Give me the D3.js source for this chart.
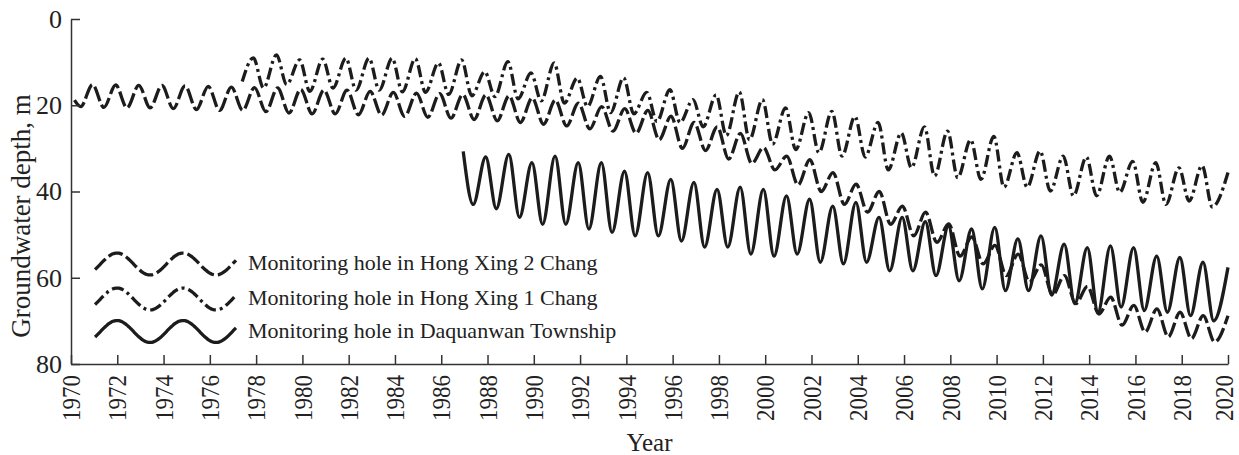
<!DOCTYPE html>
<html>
<head>
<meta charset="utf-8">
<script src="https://cdn.jsdelivr.net/npm/d3@7"></script>
<style>
  body { margin: 0; background: #fff; }
  text { font-family: "Liberation Serif", "Times New Roman", serif; fill: #222; }
</style>
</head>
<body>
<div class="container"></div>
<script>
const width = 1239;
const height = 455;
const margin = { top: 19, right: 11, bottom: 91, left: 71 };
const lineColor = '#1c1c1c';

// x ticks and y ticks
const yearTicks = d3.range(1970, 2021, 2);
const depthTicks = [0, 20, 40, 60, 80];

// Hong Xing 2 Chang (long dashes): yearly deepest (trough) and shallowest (peak) depth, m
const hx2FirstYear = 1970;
const hx2Start = [1970.15, 18.8];
const hx2End = [2020, 68.8];
const hx2Trough = [20.3, 20.5, 20.6, 20.6, 20.8, 21.0, 21.2, 21.2, 21.5, 21.8,
    22.0, 22.0, 22.2, 22.3, 22.6, 22.8, 23.0, 23.3, 23.6, 24.0,
    24.4, 24.8, 25.5, 26.0, 26.5, 28.0, 30.0, 30.5, 32.5, 33.5,
    35.0, 38.5, 40.0, 43.0, 44.8, 47.6, 50.3, 51.8, 55.0, 56.8,
    59.5, 61.0, 64.0, 66.0, 68.4, 71.0, 72.6, 73.7, 74.1, 74.9];
const hx2Peak = [15.2, 15.3, 15.4, 15.4, 15.5, 15.6, 15.8, 15.9, 16.0, 16.3,
    16.5, 16.5, 16.8, 17.0, 17.2, 17.3, 17.5, 17.6, 17.8, 18.3,
    18.8, 19.5, 20.3, 20.8, 21.2, 22.5, 24.0, 25.0, 26.5, 29.8,
    31.8, 32.6, 35.6, 38.3, 40.0, 43.4, 44.8, 47.5, 50.5, 52.5,
    54.5, 57.0, 59.5, 62.0, 64.5, 66.4, 67.2, 68.0, 68.8];

// Hong Xing 1 Chang (dash-dot)
const hx1FirstYear = 1977;
const hx1Start = [1977.4, 14.5];
const hx1End = [2020, 35.6];
const hx1Trough = [null, 16.0, 15.2, 16.8, 16.0, 16.5, 16.5, 16.9, 17.0, 17.5,
    17.8, 18.0, 18.5, 19.0, 19.5, 20.3, 21.7, 22.0, 23.8, 24.0,
    25.0, 27.0, 28.0, 29.0, 30.3, 31.0, 31.8, 32.0, 35.0, 34.5,
    36.4, 36.8, 37.2, 39.0, 39.0, 39.9, 41.0, 41.0, 40.2, 42.5,
    43.0, 42.2, 43.6];
const hx1Peak = [9.0, 8.3, 9.5, 9.3, 9.1, 9.1, 9.1, 9.2, 10.2, 9.5,
    12.2, 9.9, 12.5, 10.2, 13.7, 13.3, 13.6, 17.0, 16.4, 18.7,
    17.6, 16.9, 18.7, 20.6, 21.7, 21.4, 22.6, 24.0, 26.4, 25.0,
    26.0, 28.0, 27.2, 31.0, 30.6, 31.8, 32.0, 31.8, 33.0, 33.3,
    34.5, 34.0];

// Daquanwan Township (solid)
const dqwFirstYear = 1987;
const dqwStart = [1986.95, 30.7];
const dqwEnd = [2020, 57.6];
const dqwTrough = [43.0, 44.0, 46.0, 47.6, 47.6, 48.7, 49.5, 50.3, 50.3, 51.5,
    52.9, 52.9, 54.5, 55.0, 54.5, 56.4, 56.8, 56.4, 58.4, 58.4,
    59.5, 60.7, 62.6, 63.0, 63.0, 64.0, 66.0, 68.0, 66.8, 67.6,
    68.0, 68.8, 70.0];
const dqwPeak = [32.0, 31.4, 33.3, 31.8, 33.3, 33.3, 35.3, 35.6, 37.2, 37.9,
    39.5, 39.0, 39.5, 41.0, 41.8, 43.4, 42.5, 46.0, 46.0, 47.0,
    48.0, 48.7, 48.3, 51.0, 50.3, 52.2, 53.0, 52.6, 53.0, 55.0,
    55.3, 56.4];

const legendLabels = [
    'Monitoring hole in Hong Xing 2 Chang',
    'Monitoring hole in Hong Xing 1 Chang',
    'Monitoring hole in Daquanwan Township',
];

// time within the year of the low and high water stand
function buildSeries(first, start, troughs, peaks, end, troughPhase, peakPhase) {
    const pts = [start];
    troughs.forEach((t, i) => {
        if (t !== null) pts.push([first + i + troughPhase, t]);
        if (peaks[i] !== undefined) pts.push([first + i + peakPhase, peaks[i]]);
    });
    pts.push(end);
    return pts;
}

const series = [
    { pts: buildSeries(hx2FirstYear, hx2Start, hx2Trough, hx2Peak, hx2End, 0.42, 0.93), dash: '15,4' },
    { pts: buildSeries(hx1FirstYear, hx1Start, hx1Trough, hx1Peak, hx1End, 0.32, 0.88), dash: '12,4,3,4' },
    { pts: buildSeries(dqwFirstYear, dqwStart, dqwTrough, dqwPeak, dqwEnd, 0.38, 0.92), dash: null },
];

const svg = d3.select('.container')
    .append('svg')
    .attr('width', width)
    .attr('height', height);

const x = d3.scaleLinear().domain([1970, 2020]).range([margin.left, width - margin.right]);
const y = d3.scaleLinear().domain([0, 80]).range([margin.top, height - margin.bottom]);

const line = d3.line()
    .x(d => x(d[0]))
    .y(d => y(d[1]))
    .curve(d3.curveMonotoneX);

svg.selectAll('.series')
    .data(series)
    .enter()
    .append('path')
    .attr('class', 'series')
    .attr('d', d => line(d.pts))
    .attr('fill', 'none')
    .attr('stroke', lineColor)
    .attr('stroke-width', 3.3)
    .attr('stroke-linejoin', 'round')
    .attr('stroke-dasharray', d => d.dash);

// axes
const xAxis = svg.append('g')
    .attr('transform', `translate(0,${height - margin.bottom})`)
    .call(d3.axisBottom(x).tickValues(yearTicks).tickFormat(d3.format('d'))
        .tickSizeInner(-9).tickSizeOuter(0).tickPadding(0));
xAxis.selectAll('text')
    .attr('y', 0)
    .attr('x', -11)
    .attr('dy', d => d === 2020 ? '0.2em' : '0.35em') // last one kept inside the frame
    .attr('transform', 'scale(1.08,1) rotate(-90)')
    .style('text-anchor', 'end')
    .style('font-size', '23px');

const yAxis = svg.append('g')
    .attr('transform', `translate(${margin.left},0)`)
    .call(d3.axisLeft(y).tickValues(depthTicks)
        .tickSizeInner(-9).tickSizeOuter(0).tickPadding(9));
yAxis.selectAll('text').style('font-size', '26px');

svg.selectAll('.domain, .tick line')
    .attr('stroke', '#333')
    .attr('stroke-width', 1.5);

svg.append('text')
    .attr('transform', 'translate(30,216) rotate(-90)')
    .attr('text-anchor', 'middle')
    .style('font-size', '27px')
    .text('Groundwater depth, m');

svg.append('text')
    .attr('x', (margin.left + width - margin.right) / 2)
    .attr('y', 451)
    .attr('text-anchor', 'middle')
    .style('font-size', '25px')
    .text('Year');

// legend
const legendRows = [264, 299, 331.5];
const wave = d3.range(95, 237.5, 1.5);
const waveLine = d3.line()
    .x(d => d)
    .y(d => -11 * Math.cos(2 * Math.PI * (d - 117) / 66))
    .curve(d3.curveBasis);

const legend = svg.selectAll('.legend')
    .data(series)
    .enter()
    .append('g')
    .attr('class', 'legend')
    .attr('transform', (d, i) => `translate(0,${legendRows[i]})`);

legend.append('path')
    .attr('d', waveLine(wave))
    .attr('fill', 'none')
    .attr('stroke', lineColor)
    .attr('stroke-width', 3.3)
    .attr('stroke-dasharray', d => d.dash);

legend.append('text')
    .attr('x', 248)
    .attr('y', 6)
    .style('font-size', '22px')
    .text((d, i) => legendLabels[i]);
</script>
</body>
</html>
